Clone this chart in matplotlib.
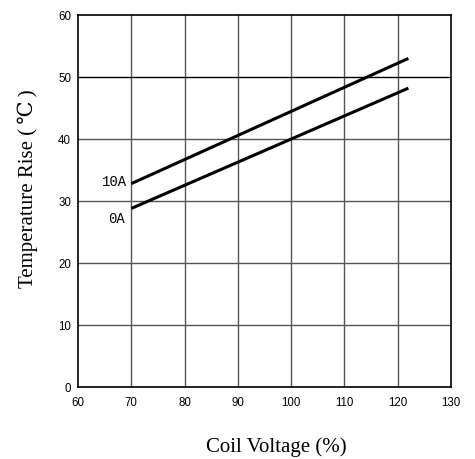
import matplotlib.pyplot as plt

# data
volt = [70, 122]
rise_10a = [32.8, 53.0]
rise_0a = [28.8, 48.2]
xticks = [60, 70, 80, 90, 100, 110, 120, 130]
yticks = [0, 10, 20, 30, 40, 50, 60]

fig = plt.figure(figsize=(4.75, 4.59), dpi=100)
ax = fig.add_axes([78 / 475, 1 - 387 / 459, 373 / 475, 372 / 459])

ax.set_xlim(60, 130)
ax.set_ylim(0, 60)
ax.set_xticks(xticks)
ax.set_yticks(yticks)

for x in xticks[1:-1]:
    ax.axvline(x, color='#555555', lw=1, zorder=1)
for y in yticks[1:-1]:
    ax.axhline(y, color='black' if y == 50 else '#555555', lw=1, zorder=1)

ax.plot(volt, rise_10a, color='black', lw=2.2, solid_capstyle='butt', zorder=3)
ax.plot(volt, rise_0a, color='black', lw=2.2, solid_capstyle='butt', zorder=3)

ax.text(69.3, 33.1, '10A', ha='right', va='center', fontsize=10, family='Liberation Mono')
ax.text(68.8, 27.1, '0A', ha='right', va='center', fontsize=10, family='Liberation Mono')

for s in ax.spines.values():
    s.set_color('black')
    s.set_linewidth(1.2)
ax.tick_params(length=0, labelsize=8.3)
ax.tick_params(axis='x', pad=7)
ax.tick_params(axis='y', pad=5)
for lab in ax.get_xticklabels() + ax.get_yticklabels():
    lab.set_family('Liberation Sans')

fig.text(276 / 475, 1 - 447 / 459, 'Coil Voltage (%)', ha='center', va='center',
         fontsize=15, family='Liberation Serif')
fig.text(28 / 475, 1 - 189 / 459, 'Temperature Rise (\u2009\u2103\u2009)', ha='center', va='center',
         rotation=90, fontsize=15, family=['Liberation Serif', 'DejaVu Serif'])

fig.savefig('out.png', dpi=100)
